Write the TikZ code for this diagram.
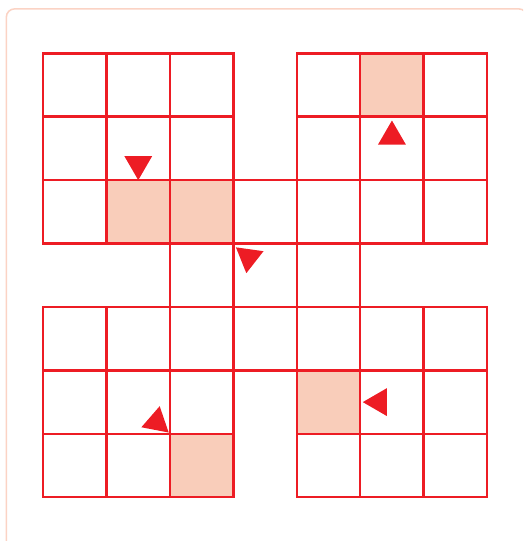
\documentclass[tikz,border=0pt]{standalone}
\definecolor{gridred}{HTML}{ED1C24}
\definecolor{cellfill}{HTML}{F9CDBA}
\definecolor{framepeach}{HTML}{FBD3C4}
\tikzset{
  cellline/.style={draw=gridred, line width=1.1pt},
  shadedcell/.style={fill=cellfill},
  pointer/.style={fill=gridred}
}
\begin{document}
\begin{tikzpicture}
\useasboundingbox (-0.68,-0.69) rectangle (7.57,7.84);
\clip (-0.68,-0.69) rectangle (7.57,7.84);
% frame
\draw[framepeach, line width=0.7pt, rounded corners=0.13cm] (-0.58,-1) -- (-0.58,7.70) -- (7.63,7.70) -- (7.63,-1);

% shaded cells
\foreach \c/\r in {5/6, 1/4, 2/4, 4/1, 2/0}
  \path[shadedcell] (\c,\r) rectangle ++(1,1);

% the four blocks and the middle
\foreach \r in {0,1,5,6}
  \foreach \c in {0,1,2,4,5,6}
    \draw[cellline] (\c,\r) rectangle ++(1,1);
\foreach \r in {2,4}
  \foreach \c in {0,...,6}
    \draw[cellline] (\c,\r) rectangle ++(1,1);
\foreach \c in {2,3,4}
  \draw[cellline] (\c,3) rectangle ++(1,1);

% triangles
\foreach \x/\y/\a in {1.5/5/-90, 5.5/5.94/90, 5.04/1.5/180, 3.04/3.94/142, 1.98/1.02/-41}
  \path[pointer, shift={(\x,\y)}, rotate=\a] (0,0) -- (-0.38,0.22) -- (-0.38,-0.22) -- cycle;
\end{tikzpicture}
\end{document}
